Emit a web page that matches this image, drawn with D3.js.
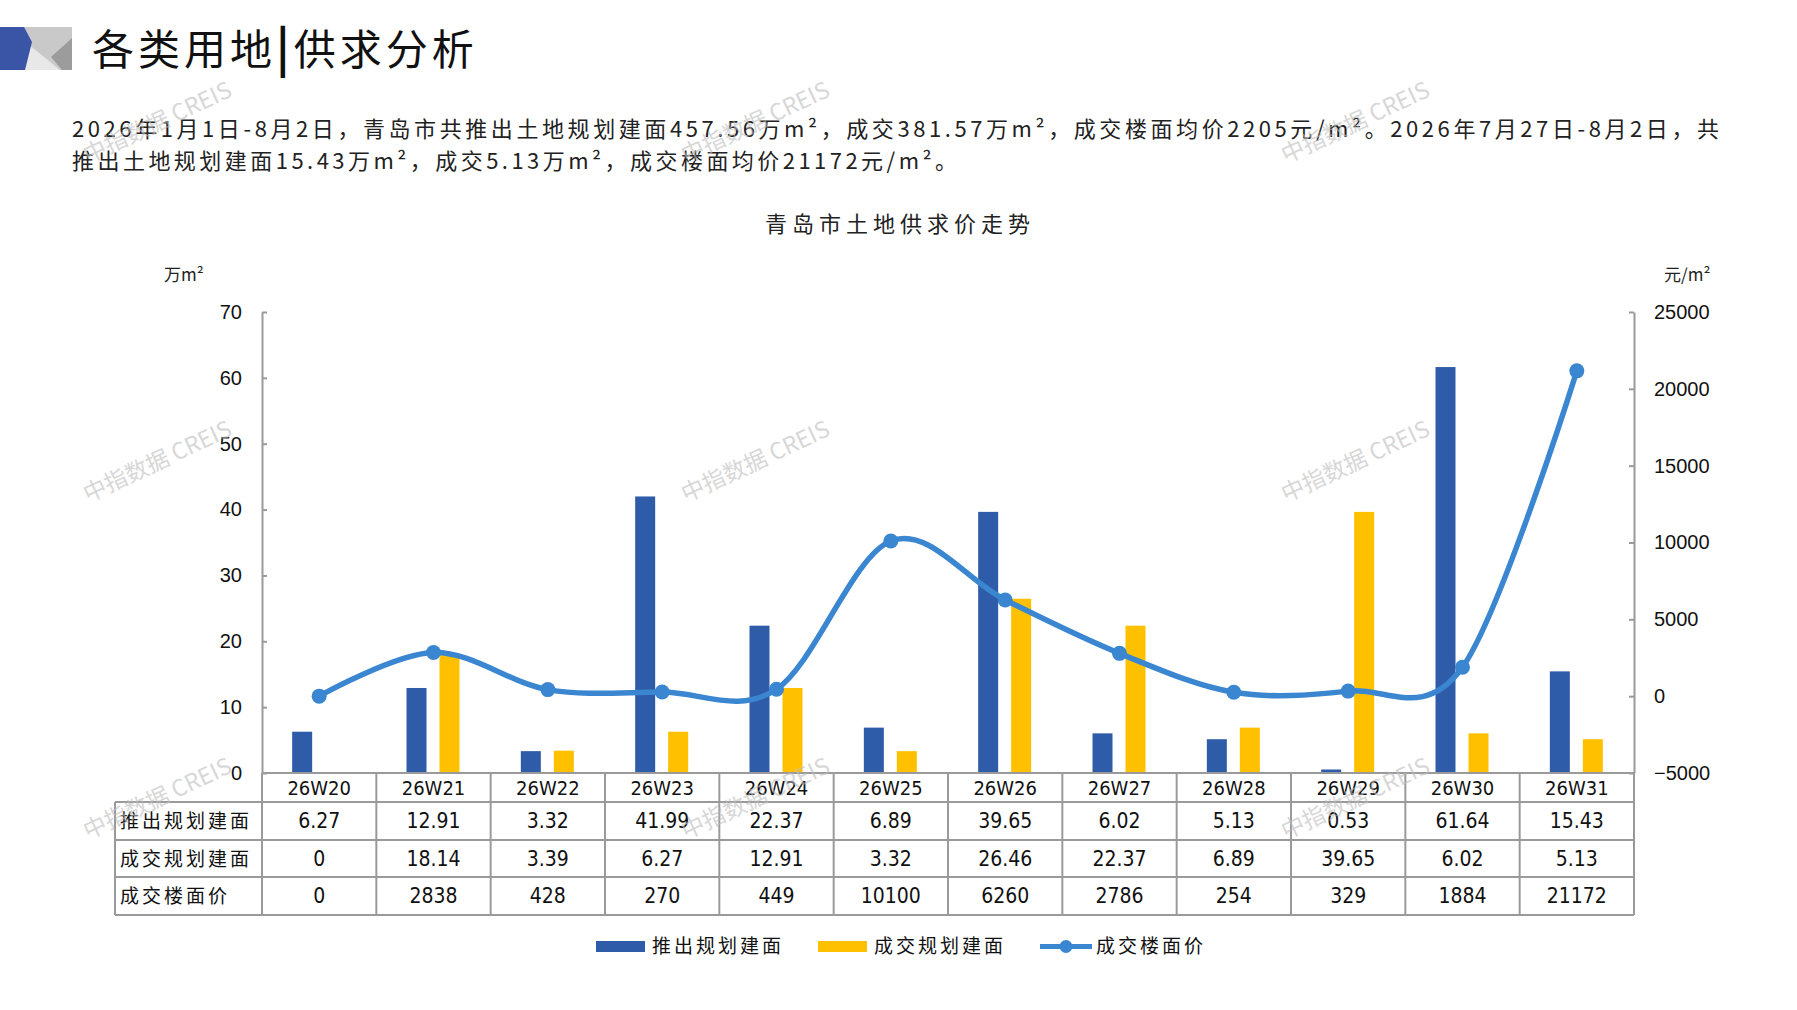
<!DOCTYPE html>
<html>
<head>
<meta charset="utf-8">
<script src="https://cdn.jsdelivr.net/npm/d3@7"></script>
<style>
  body { margin: 0; background: #fff; }
  svg { display: block; }
  .cjk { font-family: "Noto Sans CJK SC", sans-serif; }
  .num { font-family: "Liberation Sans Narrow", "DejaVu Sans Condensed", "Liberation Sans", sans-serif; }
</style>
</head>
<body>
<svg width="1797" height="1010"></svg>
<script>
// data
var weeks = ["26W20","26W21","26W22","26W23","26W24","26W25","26W26","26W27","26W28","26W29","26W30","26W31"]
var supply = [6.27, 12.91, 3.32, 41.99, 22.37, 6.89, 39.65, 6.02, 5.13, 0.53, 61.64, 15.43]
var deal = [0, 18.14, 3.39, 6.27, 12.91, 3.32, 26.46, 22.37, 6.89, 39.65, 6.02, 5.13]
var price = [0, 2838, 428, 270, 449, 10100, 6260, 2786, 254, 329, 1884, 21172]
var leftTicks = [0, 10, 20, 30, 40, 50, 60, 70]
var rightTicks = [-5000, 0, 5000, 10000, 15000, 20000, 25000]
var rowNames = ["推出规划建面", "成交规划建面", "成交楼面价"]
var seriesNames = ["推出规划建面", "成交规划建面", "成交楼面价"]

var blue = "#2E5CA9", yellow = "#FFC000", lineBlue = "#3A86D0", grid = "#9a9a9a"

var svg = d3.select("svg")

// header decoration
var deco = svg.append("g")
deco.append("rect").attr("x", 0).attr("y", 27).attr("width", 72).attr("height", 43).attr("fill", "#c9c9c9")
deco.append("polygon").attr("points", "28,44 24,70 60,70").attr("fill", "#e8e8e8")
deco.append("polygon").attr("points", "72,38 51,57 62,70 72,70").attr("fill", "#9c9c9c")
deco.append("polygon").attr("points", "0,27 24,27 32,42 25,70 0,70").attr("fill", "#3A55A6")

var title = svg.append("text").attr("class", "cjk")
    .attr("x", 92).attr("y", 65)
    .attr("font-size", 42).attr("letter-spacing", 4)
    .attr("fill", "#111")
title.append("tspan").text("各类用地")
title.append("tspan").attr("font-weight", "bold").attr("font-size", 46).text("|")
title.append("tspan").text("供求分析")

// summary text
svg.append("text").attr("class", "cjk")
    .attr("x", 72).attr("y", 137).attr("font-size", 22).attr("fill", "#222")
    .attr("textLength", 1647).attr("lengthAdjust", "spacing")
    .text("2026年1月1日-8月2日，青岛市共推出土地规划建面457.56万m²，成交381.57万m²，成交楼面均价2205元/m²。2026年7月27日-8月2日，共")
svg.append("text").attr("class", "cjk")
    .attr("x", 72).attr("y", 169).attr("font-size", 22).attr("fill", "#222")
    .attr("textLength", 885).attr("lengthAdjust", "spacing")
    .text("推出土地规划建面15.43万m²，成交5.13万m²，成交楼面均价21172元/m²。")

// chart title
svg.append("text").attr("class", "cjk")
    .attr("x", 900).attr("y", 232).attr("text-anchor", "middle")
    .attr("font-size", 22).attr("letter-spacing", 5).attr("fill", "#222")
    .text("青岛市土地供求价走势")

svg.append("text").attr("class", "cjk")
    .attr("x", 164).attr("y", 281).attr("font-size", 17).attr("fill", "#222").text("万m²")
svg.append("text").attr("class", "cjk")
    .attr("x", 1664).attr("y", 281).attr("font-size", 17).attr("fill", "#222").text("元/m²")

// scales
var plotLeft = 262, plotRight = 1634, plotTop = 312, base = 773
var x = d3.scaleBand().domain(weeks).range([plotLeft, plotRight])
var yL = d3.scaleLinear().domain([0, 70]).range([base, plotTop])
var yR = d3.scaleLinear().domain([-5000, 25000]).range([base, plotTop])

// axes
var axL = svg.append("g").attr("transform", "translate(" + plotLeft + ",0)")
    .call(d3.axisLeft(yL).tickValues(leftTicks).tickSize(-5).tickSizeOuter(0).tickPadding(20))
var axR = svg.append("g").attr("transform", "translate(" + plotRight + ",0)")
    .call(d3.axisRight(yR).tickValues(rightTicks).tickFormat(d3.format("d"))
        .tickSize(-5).tickSizeOuter(0).tickPadding(20))
;[axL, axR].forEach(function(a) {
    a.selectAll("path, line").attr("stroke", grid).attr("stroke-width", 2)
    a.selectAll("text").attr("font-size", 20).attr("fill", "#111")
        .style("font-family", "'Liberation Sans', sans-serif")
})

// bars
var bw = 20
svg.append("g").selectAll("rect").data(supply).join("rect")
    .attr("x", function(d, i) { return x(weeks[i]) + x.bandwidth()/2 - 27 })
    .attr("y", function(d) { return yL(d) })
    .attr("width", bw)
    .attr("height", function(d) { return base - yL(d) })
    .attr("fill", blue)
svg.append("g").selectAll("rect").data(deal).join("rect")
    .attr("x", function(d, i) { return x(weeks[i]) + x.bandwidth()/2 + 6 })
    .attr("y", function(d) { return yL(d) })
    .attr("width", bw)
    .attr("height", function(d) { return base - yL(d) })
    .attr("fill", yellow)

// smoothed price line
var cx = function(d, i) { return x(weeks[i]) + x.bandwidth()/2 }
var line = d3.line().x(cx).y(function(d) { return yR(d) }).curve(d3.curveCatmullRom.alpha(0))
svg.append("path").datum(price)
    .attr("d", line).attr("fill", "none")
    .attr("stroke", lineBlue).attr("stroke-width", 5.5)
svg.append("g").selectAll("circle").data(price).join("circle")
    .attr("cx", cx).attr("cy", function(d) { return yR(d) })
    .attr("r", 7.5).attr("fill", lineBlue)

// data table
var rowsY = [773, 802, 840, 877, 915]
var tableLeft = 115
var tbl = svg.append("g").attr("stroke", grid).attr("stroke-width", 2)
tbl.append("line").attr("x1", plotLeft).attr("x2", plotRight).attr("y1", rowsY[0]).attr("y2", rowsY[0])
for (var r = 1; r < rowsY.length; r++) {
    tbl.append("line").attr("x1", tableLeft).attr("x2", plotRight).attr("y1", rowsY[r]).attr("y2", rowsY[r])
}
tbl.append("line").attr("x1", tableLeft).attr("x2", tableLeft).attr("y1", rowsY[1]).attr("y2", rowsY[4])
weeks.concat([null]).forEach(function(w, i) {
    var xx = w === null ? plotRight : x(w)
    tbl.append("line").attr("x1", xx).attr("x2", xx).attr("y1", rowsY[0]).attr("y2", rowsY[4])
})

var tText = svg.append("g").attr("fill", "#111")
weeks.forEach(function(w, i) {
    var c = x(w) + x.bandwidth()/2
    tText.append("text").attr("class", "num").attr("x", c).attr("y", (rowsY[0]+rowsY[1])/2 + 7)
        .attr("text-anchor", "middle").attr("font-size", 20).text(w)
    ;[supply, deal, price].forEach(function(arr, k) {
        tText.append("text").attr("class", "num").attr("x", c).attr("y", (rowsY[k+1]+rowsY[k+2])/2 + 7)
            .attr("text-anchor", "middle").attr("font-size", 21).text(String(arr[i]))
    })
})
rowNames.forEach(function(n, k) {
    tText.append("text").attr("class", "cjk").attr("x", 120).attr("y", (rowsY[k+1]+rowsY[k+2])/2 + 7)
        .attr("font-size", 19).attr("letter-spacing", 3).text(n)
})

// legend
var lg = svg.append("g")
lg.append("rect").attr("x", 596).attr("y", 941).attr("width", 49).attr("height", 11).attr("fill", blue)
lg.append("rect").attr("x", 818).attr("y", 941).attr("width", 49).attr("height", 11).attr("fill", yellow)
lg.append("line").attr("x1", 1040).attr("x2", 1092).attr("y1", 946.5).attr("y2", 946.5)
    .attr("stroke", lineBlue).attr("stroke-width", 5)
lg.append("circle").attr("cx", 1066).attr("cy", 946.5).attr("r", 6.5).attr("fill", lineBlue)
;[652, 874, 1096].forEach(function(lx, k) {
    lg.append("text").attr("class", "cjk").attr("x", lx).attr("y", 953)
        .attr("font-size", 19).attr("letter-spacing", 3).attr("fill", "#111").text(seriesNames[k])
})

// watermarks
var wmX = [158, 756, 1356], wmY = [124, 463, 800]
var wm = svg.append("g").attr("pointer-events", "none")
wmY.forEach(function(wy) {
    wmX.forEach(function(wx) {
        wm.append("text").attr("class", "cjk")
            .attr("transform", "translate(" + wx + "," + wy + ") rotate(-25)")
            .attr("text-anchor", "middle").attr("dominant-baseline", "middle")
            .attr("font-size", 23).attr("fill", "#bdbdbd").attr("opacity", 0.6)
            .text("中指数据 CREIS")
    })
})
</script>
</body>
</html>
